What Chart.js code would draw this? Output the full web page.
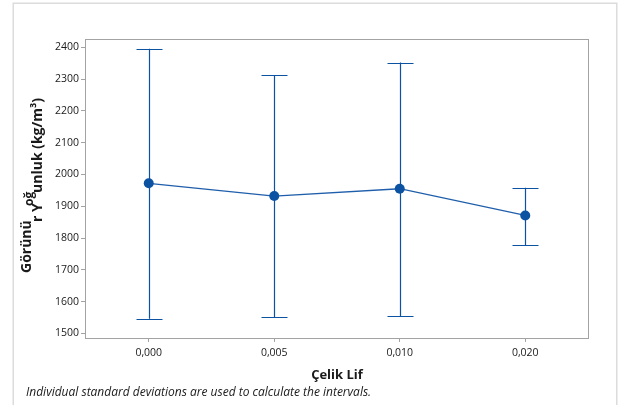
<!DOCTYPE html>
<html>
<head>
<meta charset="utf-8">
<script src="https://cdn.jsdelivr.net/npm/chart.js@4"></script>
<style>
  html, body { margin: 0; padding: 0; background: #ffffff; }
  #wrap { width: 625px; height: 405px; }
</style>
</head>
<body>
<div id="wrap"><canvas id="c" width="625" height="405"></canvas></div>
<script>
// Steel fibre ratio groups and the apparent density interval per group
const fiberLabels = ['0,000', '0,005', '0,010', '0,020'];
const meanDensity = [1972, 1932, 1955, 1871];
const lowerBound  = [1546, 1551, 1554, 1778];
const upperBound  = [2395, 2313, 2352, 1958];
const yTickValues = [1500, 1600, 1700, 1800, 1900, 2000, 2100, 2200, 2300, 2400];

const BLUE = '#0b52a2';
const AXIS_GRAY = '#a3a3a3';
const TEXT = '#1a1a1a';

// Light outer frame around the whole graph region
const framePlugin = {
  id: 'frame',
  beforeDraw(chart) {
    const ctx = chart.ctx;
    ctx.save();
    ctx.fillStyle = '#ffffff';
    ctx.fillRect(0, 0, chart.width, chart.height);
    ctx.strokeStyle = '#dcdcdc';
    ctx.lineWidth = 1.5;
    ctx.strokeRect(13.25, 3.25, 603.5, 430);
    ctx.restore();
  }
};

// Vertical interval bars with end caps, taken from the lower/upper arrays
const intervalPlugin = {
  id: 'intervals',
  beforeDatasetsDraw(chart) {
    const { ctx, scales: { x, y } } = chart;
    const capHalf = 13;
    ctx.save();
    ctx.strokeStyle = BLUE;
    ctx.lineWidth = 1.2;
    for (let i = 0; i < fiberLabels.length; i++) {
      const px = Math.round(x.getPixelForValue(i)) + 0.5;
      const yl = y.getPixelForValue(lowerBound[i]);
      const yu = y.getPixelForValue(upperBound[i]);
      ctx.beginPath();
      ctx.moveTo(px, yu);
      ctx.lineTo(px, yl);
      ctx.moveTo(px - capHalf, Math.round(yu) + 0.5);
      ctx.lineTo(px + capHalf, Math.round(yu) + 0.5);
      ctx.moveTo(px - capHalf, Math.round(yl) + 0.5);
      ctx.lineTo(px + capHalf, Math.round(yl) + 0.5);
      ctx.stroke();
    }
    ctx.restore();
  }
};

// Plot box, axis titles and the footnote
const textPlugin = {
  id: 'texts',
  afterDraw(chart) {
    const { ctx, chartArea: a } = chart;
    ctx.save();
    ctx.strokeStyle = AXIS_GRAY;
    ctx.lineWidth = 1;
    ctx.strokeRect(Math.round(a.left) - 0.5, Math.round(a.top) + 0.5,
                   Math.round(a.right - a.left) + 1, Math.round(a.bottom - a.top));

    ctx.fillStyle = TEXT;
    ctx.textBaseline = 'alphabetic';

    // x axis title
    ctx.font = 'bold 13px "Open Sans"';
    ctx.textAlign = 'center';
    ctx.fillText('Çelik Lif', (a.left + a.right) / 2, 379);

    // footnote
    ctx.font = 'italic 12px "Open Sans"';
    ctx.textAlign = 'left';
    ctx.fillText('Individual standard deviations are used to calculate the intervals.', 26, 396);

    // y axis title, drawn as separate runs with shifted baselines
    ctx.rotate(-Math.PI / 2);
    ctx.textAlign = 'left';
    ctx.font = 'bold 14px "Open Sans"';
    ctx.fillText('Görünü', -273, 31);
    ctx.fillText('r Y', -222, 42);
    ctx.font = 'bold 12px "Open Sans"';
    ctx.fillText('oğ', -206, 33);
    ctx.font = 'bold 14px "Open Sans"';
    ctx.fillText('unluk (kg/m³)', -193, 42);
    ctx.restore();
  }
};

new Chart(document.getElementById('c'), {
  type: 'line',
  data: {
    labels: fiberLabels,
    datasets: [{
      data: meanDensity,
      borderColor: '#1f5eab',
      borderWidth: 1.3,
      tension: 0,
      pointRadius: 5,
      pointHoverRadius: 5,
      pointBackgroundColor: BLUE,
      pointBorderColor: BLUE,
      pointBorderWidth: 0
    }]
  },
  options: {
    responsive: false,
    animation: false,
    events: [],
    layout: { padding: { left: 0, right: 37, top: 39, bottom: 0 } },
    plugins: { legend: { display: false }, tooltip: { enabled: false } },
    scales: {
      x: {
        type: 'category',
        offset: true,
        grid: { display: true, drawOnChartArea: false, drawTicks: true, tickLength: 4, color: AXIS_GRAY, offset: false },
        border: { display: false },
        ticks: { color: TEXT, font: { family: 'Open Sans', size: 10.5 }, padding: 5, maxRotation: 0 },
        afterFit(s) { s.height = 67; }
      },
      y: {
        min: 1485.5,
        max: 2426,
        afterBuildTicks(s) { s.ticks = yTickValues.map(v => ({ value: v })); },
        grid: { display: true, drawOnChartArea: false, drawTicks: true, tickLength: 5, color: AXIS_GRAY },
        border: { display: false },
        ticks: { color: TEXT, font: { family: 'Open Sans', size: 10.5 }, padding: 2, callback: v => String(v) },
        afterFit(s) { s.width = 86; }
      }
    }
  },
  plugins: [framePlugin, intervalPlugin, textPlugin]
});
</script>
</body>
</html>
